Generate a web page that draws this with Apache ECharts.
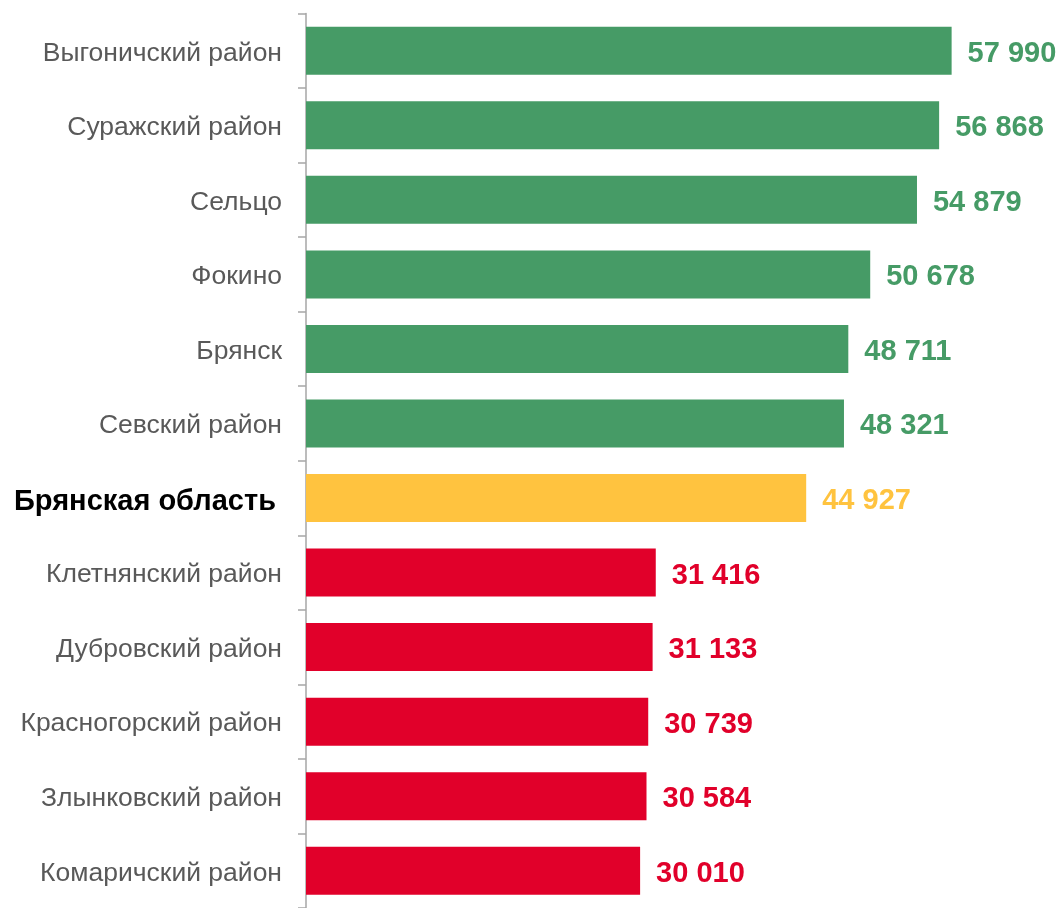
<!DOCTYPE html>
<html><head><meta charset="utf-8">
<script src="https://cdn.jsdelivr.net/npm/echarts@6/dist/echarts.min.js"></script>
<style>html,body{margin:0;padding:0;background:#fff}#c{width:1061px;height:908px}</style>
</head><body><div id="c"></div>
<script>
const categories = ["Выгоничский район","Суражский район","Сельцо","Фокино","Брянск","Севский район","Брянская область","Клетнянский район","Дубровский район","Красногорский район","Злынковский район","Комаричский район"];
const values = [57990,56868,54879,50678,48711,48321,44927,31416,31133,30739,30584,30010];
const groups = ["g","g","g","g","g","g","y","r","r","r","r","r"];
const colorsMap = {g:"#469B66", y:"#FFC33F", r:"#E1002A"};
const highlight = "Брянская область";

const chart = echarts.init(document.getElementById('c'));
chart.setOption({
  animation:false,
  grid:{left:306, top:13.5, right:87, bottom:-5.5, containLabel:false},
  xAxis:{type:'value', min:0, max:60000, show:false},
  yAxis:{type:'category', data:categories, inverse:true,
    axisLine:{show:true, lineStyle:{color:'#A6A6A6', width:1.5}},
    axisTick:{show:true, length:8, lineStyle:{color:'#A6A6A6', width:1.5}},
    axisLabel:{margin:24, fontFamily:'Liberation Sans', fontSize:26.5, color:'#595959',
      formatter:function(v){return v===highlight?'{b|'+v+'}':'{n|'+v+'}';},
      rich:{
        n:{fontFamily:'Liberation Sans', fontSize:26.5, color:'#595959', padding:[5,0,0,0]},
        b:{fontFamily:'Liberation Sans', fontWeight:'bold', fontSize:29, color:'#000', padding:[8,6,0,0]}}}
  },
  series:[{type:'bar', barWidth:48,
    data:values.map((v,i)=>({value:v, itemStyle:{color:colorsMap[groups[i]]},
      label:{color:colorsMap[groups[i]]}})),
    label:{show:true, position:'right', distance:16, offset:[0,3], fontFamily:'Liberation Sans', fontWeight:'bold', fontSize:29,
      formatter:function(p){return String(p.value).replace(/\B(?=(\d{3})+(?!\d))/g,' ');}}
  }]
});
</script></body></html>
